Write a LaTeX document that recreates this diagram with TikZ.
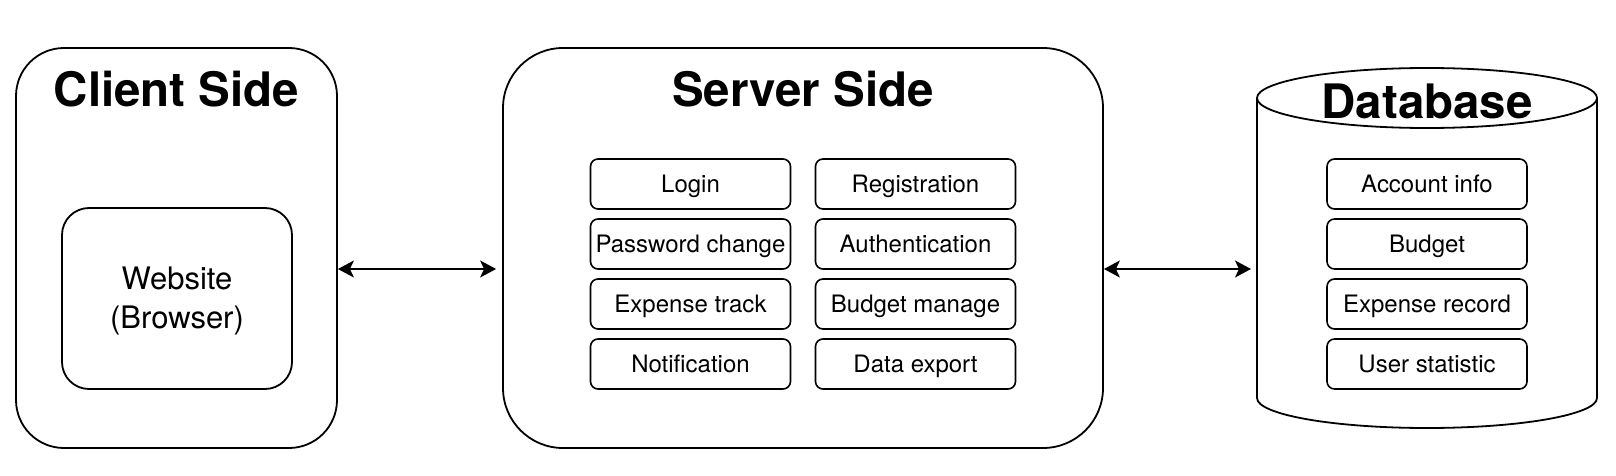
\documentclass[tikz,border=0pt]{standalone}
\usepackage{fontspec}
\setmainfont{TeX Gyre Heros}
\usetikzlibrary{arrows.meta}
\tikzset{
  bigbox/.style={draw=black, line width=1.8pt, inner sep=0pt},
  itembox/.style={draw=black, line width=1.6pt, rounded corners=7.5pt, minimum width=200pt, minimum height=50pt, inner sep=0pt, font=\fontsize{24}{28}\selectfont, text height=17.2pt, text depth=0pt},
  titletext/.style={font=\fontsize{47.5}{57}\selectfont\bfseries, anchor=base, inner sep=0pt},
  dbline/.style={draw=black, line width=1.8pt},
  conn/.style={line width=1.6pt, {Stealth[length=16pt,width=17pt,inset=4pt]}-{Stealth[length=16pt,width=17pt,inset=4pt]}, shorten >=6pt}
}
\begin{document}
\begin{tikzpicture}[x=1pt, y=-1pt]
\fill[white] (0,0) rectangle (1616,476);
\useasboundingbox (0,0) rectangle (1616,476);

% Client side
\node[bigbox, rounded corners=48pt, minimum width=321pt, minimum height=400pt] (client) at (176.5,248) {};
\node[titletext] (clienttitle) at (176.5,107) {Client Side};
\node[bigbox, rounded corners=27pt, minimum width=230pt, minimum height=181pt] (website) at (177,298.5) {};
\node[align=center, inner sep=0pt, font=\fontsize{31}{39}\selectfont] (websitetext) at (website.center) [yshift=-2pt] {Website\\(Browser)};

% Server side
\node[bigbox, rounded corners=60pt, minimum width=600pt, minimum height=400pt] (server) at (803,248) {};
\node[titletext] (servertitle) at (803,107) {Server Side};
\node[itembox] (login) at (690.5,184) {Login};
\node[itembox] (registration) at (915.5,184) {Registration};
\node[itembox] (password) at (690.5,244) {Password change};
\node[itembox] (authentication) at (915.5,244) {Authentication};
\node[itembox] (expense) at (690.5,304) {Expense track};
\node[itembox] (budgetmanage) at (915.5,304) {Budget manage};
\node[itembox] (notification) at (690.5,364) {Notification};
\node[itembox] (dataexport) at (915.5,364) {Data export};

% Database
\node[minimum width=340pt, minimum height=360pt, inner sep=0pt, outer sep=0pt] (db) at (1427,248) {};
\draw[dbline] (1257,98) -- (1257,398)
  .. controls (1257,414.57) and (1333.1,428) .. (1427,428)
  .. controls (1520.9,428) and (1597,414.57) .. (1597,398) -- (1597,98);
\draw[dbline] (1427,98) ellipse [x radius=170pt, y radius=30pt];
\node[titletext] (dbtitle) at (1427,118) {Database};
\node[itembox] (account) at (1427,184) {Account info};
\node[itembox] (budget) at (1427,244) {Budget};
\node[itembox] (record) at (1427,304) {Expense record};
\node[itembox] (statistic) at (1427,364) {User statistic};

% Connectors
\coordinate (lvl) at (0,269);
\draw[conn] (client.east |- lvl) -- (server.west |- lvl);
\draw[conn] (server.east |- lvl) -- (db.west |- lvl);
\end{tikzpicture}
\end{document}
